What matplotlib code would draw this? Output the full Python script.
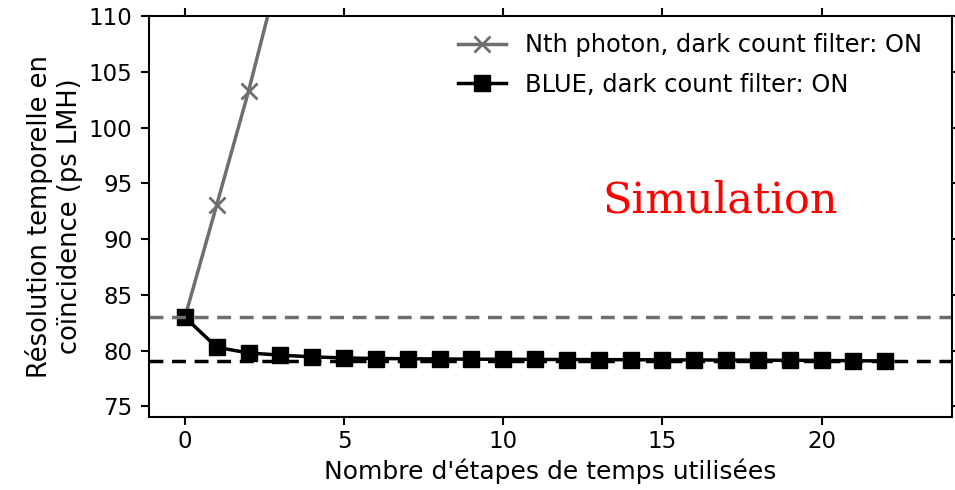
import matplotlib.pyplot as plt
import numpy as np

# nombre d'étapes de temps utilisées
steps = np.arange(0, 23)

# résolution (ps LMH) pour chaque estimateur
nth_photon = [83.0, 93.1, 103.3, 114.5, 126.0, 138.0]
blue = [83.0, 80.3, 79.8, 79.6, 79.45, 79.35, 79.3, 79.28, 79.26, 79.24,
        79.23, 79.22, 79.21, 79.2, 79.19, 79.18, 79.17, 79.16, 79.15, 79.14,
        79.13, 79.1, 79.08]

# limites de référence
nth_ref = 83.0
blue_ref = 79.1

grey = '#6e6e6e'

plt.rcParams['font.family'] = 'DejaVu Sans'
fig, ax = plt.subplots(figsize=(9.55, 4.9), dpi=100)

ax.plot(steps[:len(nth_photon)], nth_photon, color=grey, marker='x',
        markersize=11, markeredgewidth=2, linewidth=2.5,
        label='Nth photon, dark count filter: ON')
ax.plot(steps, blue, color='k', marker='s', markersize=11, linewidth=2.5,
        label='BLUE, dark count filter: ON')
ax.axhline(nth_ref, color=grey, linestyle='--', linewidth=2.5, dashes=(4, 2.5))
ax.axhline(blue_ref, color='k', linestyle='--', linewidth=2.5, dashes=(4, 2.5))

ax.text(16.8, 93.5, 'Simulation', color='red', fontsize=31,
        family='DejaVu Serif', ha='center', va='center')

ax.set_xlim(-1.13, 24.1)
ax.set_ylim(74.1, 110)
ax.set_xticks([0, 5, 10, 15, 20])
ax.set_yticks([75, 80, 85, 90, 95, 100, 105, 110])
ax.tick_params(axis='both', labelsize=16.5, width=1.5, length=6,
               top=True, right=True)
ax.tick_params(axis='y', pad=6)
for s in ax.spines.values():
    s.set_linewidth(1.5)

ax.set_xlabel("Nombre d'étapes de temps utilisées", fontsize=18, labelpad=4)
ax.set_ylabel('Résolution temporelle en\ncoïncidence (ps LMH)', fontsize=18.5,
              labelpad=4)
ax.legend(loc='upper right', bbox_to_anchor=(0.984, 1.0), frameon=False,
          fontsize=17.4, handlelength=2.0, borderaxespad=0.3,
          labelspacing=0.65)

fig.subplots_adjust(left=0.156, right=0.997, top=0.967, bottom=0.15)
fig.savefig('out.png', dpi=100)
